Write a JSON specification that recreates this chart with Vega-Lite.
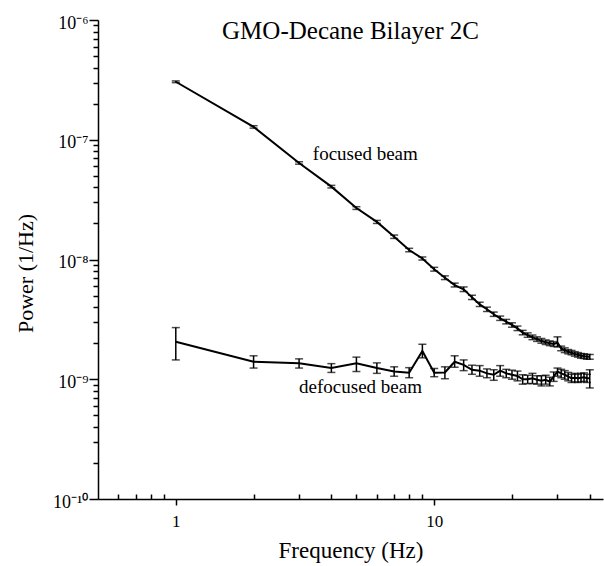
{
  "$schema": "https://vega.github.io/schema/vega-lite/v6.json",
  "width": 505,
  "height": 479,
  "autosize": "none",
  "padding": {"left": 98, "top": 20, "right": 1, "bottom": 67},
  "background": "white",
  "title": {"text": "GMO-Decane Bilayer 2C", "anchor": "middle", "frame": "group", "orient": "top", "offset": 0, "dy": 50, "baseline": "alphabetic", "font": "Liberation Serif", "fontSize": 25, "fontWeight": "normal", "color": "black"},
  "config": {"view": {"stroke": null}},
  "datasets": {
    "pts": [
      {"f": 1, "beam": "focused", "p": 3.05e-7, "lo": 3.0e-7, "hi": 3.1e-7},
      {"f": 2, "beam": "focused", "p": 1.28e-7, "lo": 1.25e-7, "hi": 1.31e-7},
      {"f": 3, "beam": "focused", "p": 6.4e-8, "lo": 6.25e-8, "hi": 6.55e-8},
      {"f": 4, "beam": "focused", "p": 4.06e-8, "lo": 3.96e-8, "hi": 4.16e-8},
      {"f": 5, "beam": "focused", "p": 2.69e-8, "lo": 2.62e-8, "hi": 2.76e-8},
      {"f": 6, "beam": "focused", "p": 2.06e-8, "lo": 2.0e-8, "hi": 2.12e-8},
      {"f": 7, "beam": "focused", "p": 1.55e-8, "lo": 1.5e-8, "hi": 1.6e-8},
      {"f": 8, "beam": "focused", "p": 1.2e-8, "lo": 1.16e-8, "hi": 1.24e-8},
      {"f": 9, "beam": "focused", "p": 1.02e-8, "lo": 9.9e-9, "hi": 1.05e-8},
      {"f": 10, "beam": "focused", "p": 8.3e-9, "lo": 8.0e-9, "hi": 8.6e-9},
      {"f": 11, "beam": "focused", "p": 7.05e-9, "lo": 6.8e-9, "hi": 7.3e-9},
      {"f": 12, "beam": "focused", "p": 6.12e-9, "lo": 5.9e-9, "hi": 6.35e-9},
      {"f": 13, "beam": "focused", "p": 5.64e-9, "lo": 5.4e-9, "hi": 5.9e-9},
      {"f": 14, "beam": "focused", "p": 4.83e-9, "lo": 4.63e-9, "hi": 5.03e-9},
      {"f": 15, "beam": "focused", "p": 4.22e-9, "lo": 4.05e-9, "hi": 4.4e-9},
      {"f": 16, "beam": "focused", "p": 3.84e-9, "lo": 3.68e-9, "hi": 4.0e-9},
      {"f": 17, "beam": "focused", "p": 3.49e-9, "lo": 3.35e-9, "hi": 3.64e-9},
      {"f": 18, "beam": "focused", "p": 3.23e-9, "lo": 3.1e-9, "hi": 3.37e-9},
      {"f": 19, "beam": "focused", "p": 3.03e-9, "lo": 2.9e-9, "hi": 3.16e-9},
      {"f": 20, "beam": "focused", "p": 2.84e-9, "lo": 2.72e-9, "hi": 2.96e-9},
      {"f": 21, "beam": "focused", "p": 2.66e-9, "lo": 2.55e-9, "hi": 2.78e-9},
      {"f": 22, "beam": "focused", "p": 2.45e-9, "lo": 2.35e-9, "hi": 2.56e-9},
      {"f": 23, "beam": "focused", "p": 2.34e-9, "lo": 2.24e-9, "hi": 2.44e-9},
      {"f": 24, "beam": "focused", "p": 2.24e-9, "lo": 2.14e-9, "hi": 2.34e-9},
      {"f": 25, "beam": "focused", "p": 2.16e-9, "lo": 2.07e-9, "hi": 2.26e-9},
      {"f": 26, "beam": "focused", "p": 2.09e-9, "lo": 2.0e-9, "hi": 2.19e-9},
      {"f": 27, "beam": "focused", "p": 2.04e-9, "lo": 1.95e-9, "hi": 2.13e-9},
      {"f": 28, "beam": "focused", "p": 2.0e-9, "lo": 1.91e-9, "hi": 2.09e-9},
      {"f": 29, "beam": "focused", "p": 1.97e-9, "lo": 1.88e-9, "hi": 2.06e-9},
      {"f": 30, "beam": "focused", "p": 2.02e-9, "lo": 1.86e-9, "hi": 2.26e-9},
      {"f": 31, "beam": "focused", "p": 1.81e-9, "lo": 1.73e-9, "hi": 1.89e-9},
      {"f": 32, "beam": "focused", "p": 1.75e-9, "lo": 1.67e-9, "hi": 1.83e-9},
      {"f": 33, "beam": "focused", "p": 1.7e-9, "lo": 1.63e-9, "hi": 1.77e-9},
      {"f": 34, "beam": "focused", "p": 1.67e-9, "lo": 1.6e-9, "hi": 1.74e-9},
      {"f": 35, "beam": "focused", "p": 1.63e-9, "lo": 1.56e-9, "hi": 1.7e-9},
      {"f": 36, "beam": "focused", "p": 1.6e-9, "lo": 1.53e-9, "hi": 1.67e-9},
      {"f": 37, "beam": "focused", "p": 1.57e-9, "lo": 1.5e-9, "hi": 1.64e-9},
      {"f": 38, "beam": "focused", "p": 1.56e-9, "lo": 1.49e-9, "hi": 1.63e-9},
      {"f": 39, "beam": "focused", "p": 1.54e-9, "lo": 1.47e-9, "hi": 1.61e-9},
      {"f": 40, "beam": "focused", "p": 1.54e-9, "lo": 1.47e-9, "hi": 1.61e-9},
      {"f": 1, "beam": "defocused", "p": 2.06e-9, "lo": 1.45e-9, "hi": 2.7e-9},
      {"f": 2, "beam": "defocused", "p": 1.4e-9, "lo": 1.24e-9, "hi": 1.57e-9},
      {"f": 3, "beam": "defocused", "p": 1.36e-9, "lo": 1.24e-9, "hi": 1.48e-9},
      {"f": 4, "beam": "defocused", "p": 1.24e-9, "lo": 1.14e-9, "hi": 1.35e-9},
      {"f": 5, "beam": "defocused", "p": 1.36e-9, "lo": 1.16e-9, "hi": 1.53e-9},
      {"f": 6, "beam": "defocused", "p": 1.24e-9, "lo": 1.12e-9, "hi": 1.37e-9},
      {"f": 7, "beam": "defocused", "p": 1.16e-9, "lo": 1.06e-9, "hi": 1.27e-9},
      {"f": 8, "beam": "defocused", "p": 1.135e-9, "lo": 1.03e-9, "hi": 1.25e-9},
      {"f": 9, "beam": "defocused", "p": 1.72e-9, "lo": 1.51e-9, "hi": 1.96e-9},
      {"f": 10, "beam": "defocused", "p": 1.135e-9, "lo": 1.05e-9, "hi": 1.23e-9},
      {"f": 11, "beam": "defocused", "p": 1.14e-9, "lo": 1.01e-9, "hi": 1.27e-9},
      {"f": 12, "beam": "defocused", "p": 1.4e-9, "lo": 1.26e-9, "hi": 1.57e-9},
      {"f": 13, "beam": "defocused", "p": 1.32e-9, "lo": 1.18e-9, "hi": 1.45e-9},
      {"f": 14, "beam": "defocused", "p": 1.2e-9, "lo": 1.1e-9, "hi": 1.31e-9},
      {"f": 15, "beam": "defocused", "p": 1.18e-9, "lo": 1.06e-9, "hi": 1.3e-9},
      {"f": 16, "beam": "defocused", "p": 1.12e-9, "lo": 1.03e-9, "hi": 1.22e-9},
      {"f": 17, "beam": "defocused", "p": 1.09e-9, "lo": 0.98e-9, "hi": 1.2e-9},
      {"f": 18, "beam": "defocused", "p": 1.18e-9, "lo": 1.06e-9, "hi": 1.3e-9},
      {"f": 19, "beam": "defocused", "p": 1.12e-9, "lo": 1.03e-9, "hi": 1.21e-9},
      {"f": 20, "beam": "defocused", "p": 1.09e-9, "lo": 1.0e-9, "hi": 1.19e-9},
      {"f": 21, "beam": "defocused", "p": 1.065e-9, "lo": 0.97e-9, "hi": 1.17e-9},
      {"f": 22, "beam": "defocused", "p": 1.0e-9, "lo": 0.91e-9, "hi": 1.09e-9},
      {"f": 23, "beam": "defocused", "p": 1.0e-9, "lo": 0.92e-9, "hi": 1.08e-9},
      {"f": 24, "beam": "defocused", "p": 1.02e-9, "lo": 0.92e-9, "hi": 1.12e-9},
      {"f": 25, "beam": "defocused", "p": 0.99e-9, "lo": 0.91e-9, "hi": 1.07e-9},
      {"f": 26, "beam": "defocused", "p": 0.97e-9, "lo": 0.88e-9, "hi": 1.07e-9},
      {"f": 27, "beam": "defocused", "p": 0.99e-9, "lo": 0.91e-9, "hi": 1.08e-9},
      {"f": 28, "beam": "defocused", "p": 0.955e-9, "lo": 0.88e-9, "hi": 1.04e-9},
      {"f": 29, "beam": "defocused", "p": 1.05e-9, "lo": 0.96e-9, "hi": 1.15e-9},
      {"f": 30, "beam": "defocused", "p": 1.16e-9, "lo": 1.06e-9, "hi": 1.24e-9},
      {"f": 31, "beam": "defocused", "p": 1.12e-9, "lo": 1.03e-9, "hi": 1.21e-9},
      {"f": 32, "beam": "defocused", "p": 1.09e-9, "lo": 1.0e-9, "hi": 1.18e-9},
      {"f": 33, "beam": "defocused", "p": 1.05e-9, "lo": 0.97e-9, "hi": 1.14e-9},
      {"f": 34, "beam": "defocused", "p": 1.02e-9, "lo": 0.94e-9, "hi": 1.1e-9},
      {"f": 35, "beam": "defocused", "p": 1.03e-9, "lo": 0.95e-9, "hi": 1.12e-9},
      {"f": 36, "beam": "defocused", "p": 1.02e-9, "lo": 0.94e-9, "hi": 1.1e-9},
      {"f": 37, "beam": "defocused", "p": 1.03e-9, "lo": 0.95e-9, "hi": 1.12e-9},
      {"f": 38, "beam": "defocused", "p": 1.04e-9, "lo": 0.96e-9, "hi": 1.13e-9},
      {"f": 39, "beam": "defocused", "p": 1.02e-9, "lo": 0.94e-9, "hi": 1.1e-9},
      {"f": 40, "beam": "defocused", "p": 1.02e-9, "lo": 0.846e-9, "hi": 1.2e-9}
    ],
    "notes": [
      {"f": 3.39, "p": 6.78e-8, "label": "focused beam"},
      {"f": 3.0, "p": 7.67e-10, "label": "defocused beam"}
    ]
  },
  "layer": [
    {
      "data": {"name": "pts"},
      "mark": {"type": "line", "color": "black", "strokeWidth": 2},
      "encoding": {
        "x": {"field": "f", "type": "quantitative",
          "scale": {"type": "log", "domain": [0.5, 45], "nice": false},
          "axis": {"orient": "bottom", "values": [0.6, 0.7, 0.8, 0.9, 1, 2, 3, 4, 5, 6, 7, 8, 9, 10, 20, 30, 40],
            "labelExpr": "datum.value == 1 ? '1' : datum.value == 10 ? '10' : ''",
            "tickSize": {"condition": {"test": "datum.value == 1 || datum.value == 10", "value": 6}, "value": -5},
            "tickWidth": 1.5, "tickColor": "black",
            "domainColor": "black", "domainWidth": 1.5, "grid": false,
            "labelFont": "Liberation Serif", "labelFontSize": 17, "labelColor": "black", "labelPadding": 8, "labelFlush": false, "labelOverlap": false,
            "title": "Frequency (Hz)", "titleFont": "Liberation Serif", "titleFontSize": 23, "titleFontWeight": "normal", "titleColor": "black",
            "titleBaseline": "alphabetic", "titleY": 58}},
        "y": {"field": "p", "type": "quantitative",
          "scale": {"type": "log", "domain": [1e-10, 1e-6], "nice": false},
          "axis": {"orient": "left",
            "values": [1e-10, 2e-10, 3e-10, 4e-10, 5e-10, 6e-10, 7e-10, 8e-10, 9e-10, 1e-9, 2e-9, 3e-9, 4e-9, 5e-9, 6e-9, 7e-9, 8e-9, 9e-9, 1e-8, 2e-8, 3e-8, 4e-8, 5e-8, 6e-8, 7e-8, 8e-8, 9e-8, 1e-7, 2e-7, 3e-7, 4e-7, 5e-7, 6e-7, 7e-7, 8e-7, 9e-7, 1e-6],
            "tickSize": {"condition": {"test": "abs(log(datum.value)/LN10 - round(log(datum.value)/LN10)) < 0.01", "value": 9}, "value": 5},
            "tickWidth": 1.5, "tickColor": "black",
            "domainColor": "black", "domainWidth": 1.5, "grid": false,
            "labelExpr": "abs(log(datum.value)/LN10 - round(log(datum.value)/LN10)) > 0.01 ? '' : datum.value < 5e-10 ? '10⁻¹⁰' : datum.value < 5e-9 ? '10⁻⁹' : datum.value < 5e-8 ? '10⁻⁸' : datum.value < 5e-7 ? '10⁻⁷' : '10⁻⁶'",
            "labelFont": "Liberation Serif", "labelFontSize": 18, "labelColor": "black", "labelPadding": 1, "labelFlush": false, "labelOverlap": false, "labelBaseline": "middle", "labelOffset": 3,
            "title": "Power (1/Hz)", "titleFont": "Liberation Serif", "titleFontSize": 22, "titleFontWeight": "normal", "titleColor": "black",
            "titleAngle": 270, "titleBaseline": "alphabetic", "titleX": -66, "titleY": 253}},
        "detail": {"field": "beam"}
      }
    },
    {
      "data": {"name": "pts"},
      "mark": {"type": "rule", "color": "black", "strokeWidth": 1.5},
      "encoding": {
        "x": {"field": "f", "type": "quantitative"},
        "y": {"field": "lo", "type": "quantitative"},
        "y2": {"field": "hi"}
      }
    },
    {
      "data": {"name": "pts"},
      "mark": {"type": "tick", "color": "black", "orient": "horizontal", "size": 8, "thickness": 1.5},
      "encoding": {
        "x": {"field": "f", "type": "quantitative"},
        "y": {"field": "lo", "type": "quantitative"}
      }
    },
    {
      "data": {"name": "pts"},
      "mark": {"type": "tick", "color": "black", "orient": "horizontal", "size": 8, "thickness": 1.5},
      "encoding": {
        "x": {"field": "f", "type": "quantitative"},
        "y": {"field": "hi", "type": "quantitative"}
      }
    },
    {
      "data": {"name": "notes"},
      "mark": {"type": "text", "align": "left", "baseline": "alphabetic", "font": "Liberation Serif", "fontSize": 19, "color": "black"},
      "encoding": {
        "x": {"field": "f", "type": "quantitative"},
        "y": {"field": "p", "type": "quantitative"},
        "text": {"field": "label"}
      }
    }
  ]
}
